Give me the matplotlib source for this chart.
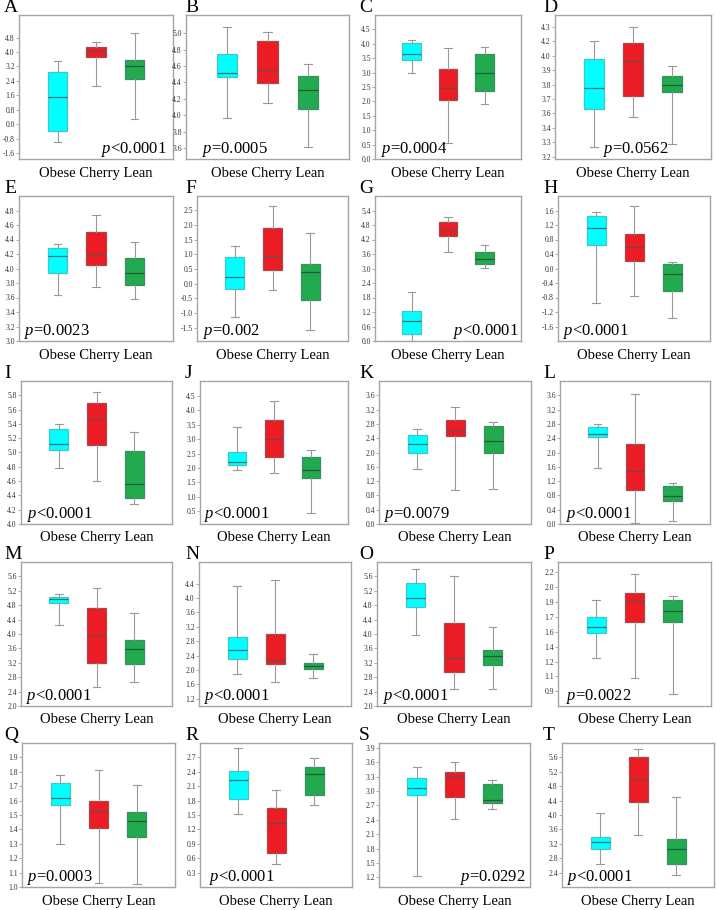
import numpy as np
import matplotlib
matplotlib.use('Agg')
import matplotlib.pyplot as plt

plt.rcParams['font.family'] = 'Liberation Serif'
plt.rcParams['mathtext.fontset'] = 'custom'
plt.rcParams['mathtext.it'] = 'Liberation Serif:italic'
plt.rcParams['mathtext.rm'] = 'Liberation Serif'

letters = list('ABCDEFGHIJKLMNOPQRST')
groups = 'Obese Cherry Lean'

# box stats per panel: (whisker low, q1, median, q3, whisker high)
obese = [(-1.0, -0.4, 1.5, 2.88, 3.51), (3.97, 4.47, 4.52, 4.75, 5.07),
         (2.99, 3.44, 3.66, 4.03, 4.12), (3.28, 3.60, 3.78, 4.03, 4.18),
         (3.64, 3.94, 4.17, 4.28, 4.34), (-1.14, -0.17, 0.22, 0.90, 1.28),
         (0.0, 0.27, 0.81, 1.25, 2.02), (-0.96, 0.66, 1.12, 1.45, 1.56),
         (4.78, 5.04, 5.12, 5.33, 5.40), (1.92, 2.10, 2.22, 2.57, 3.43),
         (1.55, 1.98, 2.23, 2.48, 2.67), (1.56, 2.42, 2.51, 2.71, 2.80),
         (4.26, 4.87, 4.96, 5.04, 5.10), (1.89, 2.30, 2.55, 2.93, 4.33),
         (3.97, 4.76, 5.01, 5.41, 5.80), (1.26, 1.54, 1.60, 1.71, 1.90),
         (1.30, 1.57, 1.62, 1.72, 1.78), (1.53, 1.83, 2.22, 2.41, 2.89),
         (1.23, 2.92, 3.06, 3.28, 3.51), (2.64, 3.05, 3.26, 3.40, 4.05)]
cherry = [(2.09, 3.71, 4.03, 4.25, 4.58), (4.15, 4.39, 4.55, 4.90, 5.01),
          (0.54, 2.05, 2.47, 3.11, 3.84), (3.54, 3.71, 4.01, 4.16, 4.30),
          (3.75, 4.05, 4.20, 4.51, 4.74), (-0.22, 0.45, 0.89, 1.88, 2.64),
          (3.67, 4.34, 4.60, 4.92, 5.12), (-0.77, 0.22, 0.58, 0.95, 1.73),
          (4.60, 5.10, 5.47, 5.69, 5.85), (1.84, 2.40, 3.00, 3.66, 4.34),
          (0.95, 2.45, 2.62, 2.90, 3.28), (0.02, 0.95, 1.47, 2.25, 3.65),
          (2.53, 3.19, 3.97, 4.73, 5.27), (1.68, 2.18, 2.27, 3.01, 4.50),
          (2.47, 2.94, 3.34, 4.31, 5.62), (1.04, 1.66, 1.89, 1.97, 2.18),
          (1.03, 1.41, 1.53, 1.60, 1.81), (0.48, 0.70, 1.33, 1.64, 2.03),
          (2.41, 2.87, 3.30, 3.40, 3.60), (3.44, 4.36, 5.01, 5.62, 5.82)]
lean = [(0.28, 2.48, 3.2, 3.53, 5.04), (3.62, 4.08, 4.31, 4.48, 4.63),
        (1.91, 2.35, 2.97, 3.65, 3.89), (3.31, 3.75, 3.81, 3.88, 3.97),
        (3.58, 3.77, 3.94, 4.14, 4.36), (-1.58, -0.57, 0.41, 0.66, 1.73),
        (3.02, 3.18, 3.41, 3.69, 3.99), (-1.37, -0.63, -0.14, 0.12, 0.18),
        (4.28, 4.37, 4.56, 5.02, 5.29), (0.44, 1.66, 1.92, 2.37, 2.61),
        (0.99, 1.98, 2.31, 2.73, 2.86), (0.08, 0.63, 0.79, 1.05, 1.16),
        (2.68, 3.16, 3.58, 3.83, 4.58), (1.77, 2.02, 2.10, 2.19, 2.45),
        (2.47, 3.14, 3.38, 3.55, 4.20), (0.87, 1.66, 1.78, 1.90, 1.94),
        (1.02, 1.35, 1.46, 1.52, 1.71), (1.70, 1.92, 2.35, 2.51, 2.69),
        (2.62, 2.74, 2.81, 3.14, 3.23), (2.34, 2.64, 3.05, 3.32, 4.51)]

ylims = [(-1.93, 6.05), (3.47, 5.22), (0, 5.0), (3.18, 4.40),
         (3.0, 5.0), (-1.95, 2.98), (0, 6.0), (-2.0, 2.0),
         (4.0, 6.0), (0.06, 5.02), (0, 4.0), (0, 4.0),
         (2.0, 6.0), (1.0, 5.0), (2.0, 6.0), (0.74, 2.31),
         (1.0, 2.0), (0, 3.0), (1.0, 4.0), (2.0, 6.0)]

tick_labels = [
    "-1.6 -0.8 0.0 0.8 1.6 2.4 3.2 4.0 4.8", "3.6 3.8 4.0 4.2 4.4 4.6 4.8 5.0",
    "0.0 0.5 1.0 1.5 2.0 2.5 3.0 3.5 4.0 4.5", "3.2 3.3 3.4 3.6 3.7 3.8 3.9 4.0 4.2 4.3",
    "3.0 3.2 3.4 3.6 3.8 4.0 4.2 4.4 4.6 4.8", "-1.5 -1.0 -0.5 0.0 0.5 1.0 1.5 2.0 2.5",
    "0.0 0.6 1.2 1.8 2.4 3.0 3.6 4.2 4.8 5.4", "-1.6 -1.2 -0.8 -0.4 0.0 0.4 0.8 1.2 1.6",
    "4.0 4.2 4.4 4.6 4.8 5.0 5.2 5.4 5.6 5.8", "0.5 1.0 1.5 2.0 2.5 3.0 3.5 4.0 4.5",
    "0.0 0.4 0.8 1.2 1.6 2.0 2.4 2.8 3.2 3.6", "0.0 0.4 0.8 1.2 1.6 2.0 2.4 2.8 3.2 3.6",
    "2.0 2.4 2.8 3.2 3.6 4.0 4.4 4.8 5.2 5.6", "1.2 1.6 2.0 2.4 2.8 3.2 3.6 4.0 4.4",
    "2.0 2.4 2.8 3.2 3.6 4.0 4.4 4.8 5.2 5.6", "0.9 1.1 1.2 1.4 1.6 1.7 1.9 2.0 2.2",
    "1.0 1.1 1.2 1.3 1.4 1.5 1.6 1.7 1.8 1.9", "0.3 0.6 0.9 1.2 1.5 1.8 2.1 2.4 2.7",
    "1.2 1.5 1.8 2.1 2.4 2.7 3.0 3.3 3.6 3.9", "2.4 2.8 3.2 3.6 4.0 4.4 4.8 5.2 5.6"]

p_values = ['<0.0001', '=0.0005', '=0.0004', '=0.0562', '=0.0023', '=0.002',
            '<0.0001', '<0.0001', '<0.0001', '<0.0001', '=0.0079', '<0.0001',
            '<0.0001', '<0.0001', '<0.0001', '=0.0022', '=0.0003', '<0.0001',
            '=0.0292', '<0.0001']
p_x = [0.96, 0.10, 0.04, 0.31, 0.03, 0.04, 0.98, 0.03, 0.04, 0.03,
       0.035, 0.04, 0.035, 0.03, 0.04, 0.05, 0.03, 0.06, 0.97, 0.03]
p_ha = ['right', 'left', 'left', 'left', 'left', 'left', 'right', 'left', 'left', 'left',
        'left', 'left', 'left', 'left', 'left', 'left', 'left', 'left', 'right', 'left']

# layout in pixels
W, H = 716, 910
ax_left = [19, 186, 375, 555, 19, 197, 375, 558, 21, 200, 379, 560,
           21, 199, 377, 558, 22, 200, 379, 562]
ax_right = [173, 349, 521, 711, 173, 348, 521, 710, 172, 348, 531, 710,
            172, 351, 531, 711, 175, 352, 530, 714]
row_top = [15, 196, 381, 562, 743]
row_bottom = [159, 341, 524, 706, 887]
letter_x = [4, 185, 359, 543]

face = ['#00FFFF', '#EC1C24', '#22AA4E']
edge = ['#40C8C8', '#A8484C', '#3C8C64']
med_col = ['#2E7078', '#704848', '#1E5A3C']

fig = plt.figure(figsize=(W / 100, H / 100), dpi=100)

for i, L in enumerate(letters):
    r, c = divmod(i, 4)
    left, right = ax_left[i], ax_right[i]
    top, bottom = row_top[r], row_bottom[r]
    ax = fig.add_axes([left / W, 1 - bottom / H, (right - left) / W, (bottom - top) / H])

    stats = []
    for s in (obese[i], cherry[i], lean[i]):
        stats.append(dict(whislo=s[0], q1=s[1], med=s[2], q3=s[3], whishi=s[4]))
    bp = ax.bxp(stats, positions=[1, 2, 3], widths=0.5, patch_artist=True,
                showfliers=False, capwidths=0.2,
                whiskerprops=dict(color='#999999', lw=0.8),
                capprops=dict(color='#999999', lw=0.8),
                medianprops=dict(lw=0.9))
    for k in range(3):
        bp['boxes'][k].set_facecolor(face[k])
        bp['boxes'][k].set_edgecolor(edge[k])
        bp['boxes'][k].set_linewidth(0.9)
        bp['medians'][k].set_color(med_col[k])

    ax.set_xlim(0, 4)
    ax.set_ylim(ylims[i])
    labs = tick_labels[i].split()
    ax.set_yticks(np.linspace(float(labs[0]), float(labs[-1]), len(labs)))
    ax.set_yticklabels(labs)
    ax.set_xticks([])
    ax.tick_params(axis='y', labelsize=5.5, length=2, width=0.5, color='#888888',
                   pad=1, labelcolor='#333333')
    for sp in ax.spines.values():
        sp.set_color('#a5a5a5')
        sp.set_linewidth(1.0)

    ax.text(p_x[i], 0.04, '$p$' + p_values[i], transform=ax.transAxes,
            ha=p_ha[i], va='baseline', fontsize=12)
    fig.text(letter_x[c] / W, 1 - (top - 3) / H, L, fontsize=14, va='baseline')
    fig.text((left + right) / 2 / W, 1 - (bottom + 14) / H, groups,
             fontsize=10.5, ha='center', va='center')

fig.savefig('out.png', dpi=100)
